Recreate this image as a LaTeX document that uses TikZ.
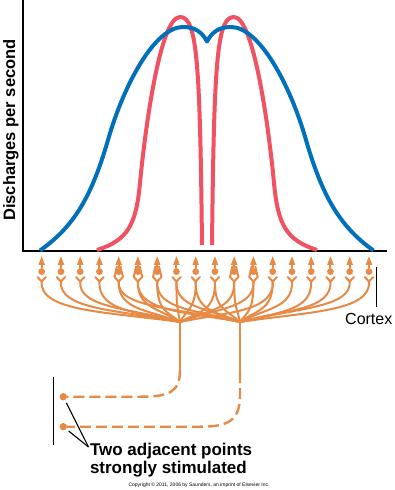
\documentclass[tikz,border=0pt]{standalone}
\usepackage{fontspec}
\setmainfont{Liberation Sans}
\definecolor{cblue}{RGB}{0,112,186}
\definecolor{cred}{RGB}{240,82,98}
\definecolor{corange}{RGB}{230,138,70}
\begin{document}
\begin{tikzpicture}[x=1pt,y=-1pt,
  axisline/.style={line width=2pt,black},
  bluecurve/.style={line width=4pt,cblue,line join=round},
  redcurve/.style={line width=4pt,cred},
  fiber/.style={line width=2pt,corange,line join=round,line cap=round},
  dfiber/.style={line width=2.4pt,corange,dash pattern=on 11pt off 5pt},
  soma/.style={circle,fill=corange,inner sep=0pt,minimum size=6.8pt},
  dot/.style={circle,fill=corange,inner sep=0pt,minimum size=7.4pt},
  thinline/.style={line width=1.3pt,black},
  lbl/.style={font=\fontsize{17}{18}\selectfont\bfseries,inner sep=0pt},
]
\useasboundingbox (0,0) rectangle (395,490);
\fill[white] (0,0) rectangle (395,490);

% axes
\coordinate (ytop) at (22.7,0);
\coordinate (orig) at (22.7,251);
\coordinate (xend) at (387,251);
\draw[axisline] (ytop) -- (orig) -- (xend);
\node[font=\fontsize{16.5}{18}\selectfont\bfseries,rotate=90,anchor=base,inner sep=0pt] (ylab) at (15.2,130) {Discharges per second};

% red curve
\draw[redcurve] (97,250) .. controls (128,240) and (136,225) .. (140,183)
  .. controls (145,130) and (160,17) .. (180,17)
  .. controls (197,17) and (200,60) .. (202,245);
\draw[redcurve] (317,250) .. controls (286,240) and (278,225) .. (274,183)
  .. controls (269,130) and (254,17) .. (234,17)
  .. controls (217,17) and (214,60) .. (212,245);

% blue curve
\draw[bluecurve] (40,250.5) .. controls (75,226) and (92,195) .. (108,140)
  .. controls (124,84) and (155,27) .. (183,27)
  .. controls (195,27) and (202,32) .. (207,41.5)
  .. controls (212,32) and (219,27) .. (231,27)
  .. controls (259,27) and (290,84) .. (306,140)
  .. controls (322,195) and (339,226) .. (373.5,250.5);

% neurons
\foreach \i in {0,...,17}{
  \pgfmathsetmacro\nx{41.7+19.25*\i}
  \node[soma] (s\i) at (\nx,271.6) {};
  \coordinate (f\i) at (\nx,281.5);
  \fill[corange] (\nx,256.3) -- (\nx+3.3,264.8) -- (\nx-3.3,264.8) -- cycle;
  \draw[fiber] (\nx,264) -- (s\i);
  \draw[fiber] (\nx-4.2,277) -- (f\i) -- (\nx+4.2,277);
}
\foreach \i in {4,5,6,10,11}{
  \pgfmathsetmacro\nx{41.7+19.25*\i}
  \draw[fiber] (\nx-4.2,277) -- (\nx-1.8,266.5);
  \draw[fiber] (\nx+4.2,277) -- (\nx+1.8,266.5);
}

% fibre trees
\coordinate (t1) at (180,322);
\coordinate (t2) at (240,322);
\coordinate (b1) at (180,370);
\coordinate (b2) at (240,372);
\draw[fiber] (b1) -- (t1);
\draw[fiber] (b2) -- (t2);
\foreach \i in {0,...,12}{
  \pgfmathsetmacro\nx{41.7+19.25*\i}
  \pgfmathsetmacro\cx{180+0.5*(\nx-180)}
  \pgfmathsetmacro\cxx{\nx+0.02*(\nx-180)}
  \pgfmathsetmacro\cy{312-mod(\i,3)*2}
  \draw[fiber] (t1) .. controls (\cx,\cy) and (\cxx,\cy) .. (f\i);
}
\foreach \i in {4,...,17}{
  \pgfmathsetmacro\nx{41.7+19.25*\i}
  \pgfmathsetmacro\cx{240+0.5*(\nx-240)}
  \pgfmathsetmacro\cxx{\nx+0.02*(\nx-240)}
  \pgfmathsetmacro\cy{312-mod(\i+1,3)*2}
  \draw[fiber] (t2) .. controls (\cx,\cy) and (\cxx,\cy) .. (f\i);
}

% dashed afferents
\node[dot] (p1) at (63.3,396.7) {};
\node[dot] (p2) at (63.3,426.7) {};
\draw[dfiber] (b1) .. controls (180,393) and (168,396.7) .. (140,396.7) -- (p1);
\draw[dfiber] (b2) -- (240,395) .. controls (240,421) and (228,426.7) .. (200,426.7) -- (p2);

% skin bar
\coordinate (skt) at (53.3,376.7);
\coordinate (skb) at (53.3,445);
\draw[thinline] (skt) -- (skb);

% cortex
\coordinate (ct) at (376.7,266.7);
\coordinate (cb) at (376.7,306.7);
\draw[thinline] (ct) -- (cb);
\node[font=\fontsize{16}{18}\selectfont,anchor=base west,inner sep=0pt] (cortex) at (345,324) {Cortex};

% label
\node[lbl,anchor=base west] (lab1) at (89.8,455.5) {Two adjacent points};
\node[lbl,anchor=base west] (lab2) at (89.8,473.5) {strongly stimulated};
\coordinate (tip) at (88.5,447);
\draw[line width=1.1pt,black,shorten <=3pt] (p1) -- (tip);
\draw[line width=1.1pt,black,shorten <=3pt] (p2) -- (tip);

\node[font=\fontsize{5}{6}\selectfont,inner sep=0pt] (copy) at (199,485.7) {Copyright © 2011, 2006 by Saunders, an imprint of Elsevier Inc.};
\end{tikzpicture}
\end{document}
